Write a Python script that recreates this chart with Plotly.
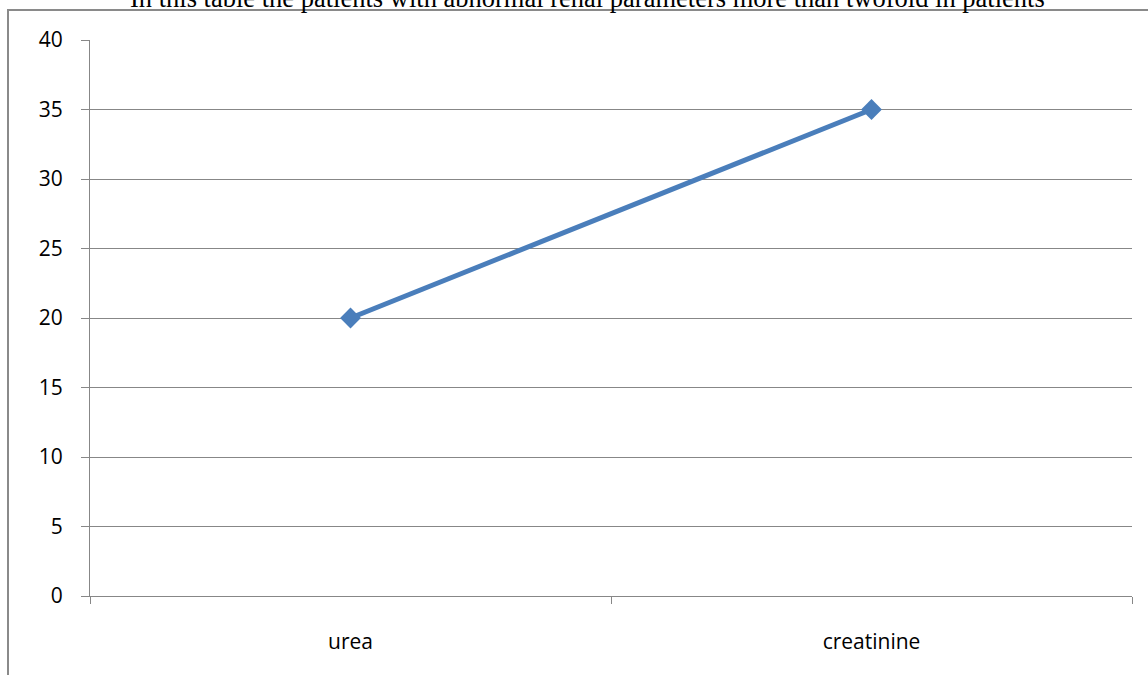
import plotly.graph_objects as go

categories = ["urea", "creatinine"]
values = [20, 35]
y_ticks = [0, 5, 10, 15, 20, 25, 30, 35, 40]
title_text = "In this table the patients with abnormal renal parameters more than twoföld in patients".replace("ö", "o")

W, H = 1148, 675
ml, mr, mt, mb = 90, 16, 40, 79
pw, ph = W - ml - mr, H - mt - mb

def px_x(x):
    return (x - ml) / pw

def px_y(y):
    return 1 - (y - mt) / ph

fig = go.Figure()
fig.add_trace(go.Scatter(
    x=categories, y=values, mode="lines+markers",
    line=dict(color="#4a7ebb", width=5),
    marker=dict(symbol="diamond", size=16, color="#4a7ebb"),
    showlegend=False,
))

gray = "#878787"
fig.update_layout(
    width=W, height=H,
    margin=dict(l=ml, r=mr, t=mt, b=mb),
    paper_bgcolor="white", plot_bgcolor="white",
    font=dict(family="Open Sans", size=21, color="#000000"),
    xaxis=dict(
        type="category", range=[-0.5, 1.5], tickson="boundaries",
        ticks="outside", ticklen=7, tickcolor=gray, tickwidth=1,
        showgrid=False, showline=True, linecolor=gray, linewidth=1,
        ticklabelstandoff=27, tickfont=dict(family="Open Sans", size=21),
    ),
    yaxis=dict(
        range=[0, 40], tickvals=y_ticks, ticktext=[str(v) for v in y_ticks],
        ticks="outside", ticklen=8, tickcolor=gray, tickwidth=1,
        showgrid=True, gridcolor=gray, gridwidth=1,
        showline=True, linecolor=gray, linewidth=1, zeroline=False,
        ticklabelstandoff=14, tickfont=dict(family="Open Sans", size=21),
    ),
)

fig.add_shape(type="rect", xref="paper", yref="paper",
              x0=px_x(8), x1=px_x(1152), y0=px_y(690), y1=px_y(10),
              line=dict(color="#8a8a8a", width=2), fillcolor="rgba(0,0,0,0)",
              layer="below")

fig.add_annotation(text=title_text, xref="paper", yref="paper",
                   x=px_x(587), y=px_y(9), xanchor="center", yanchor="bottom",
                   yshift=-6, showarrow=False,
                   font=dict(family="Liberation Serif", size=26.5, color="#000000"))

fig.write_html("out.html")
